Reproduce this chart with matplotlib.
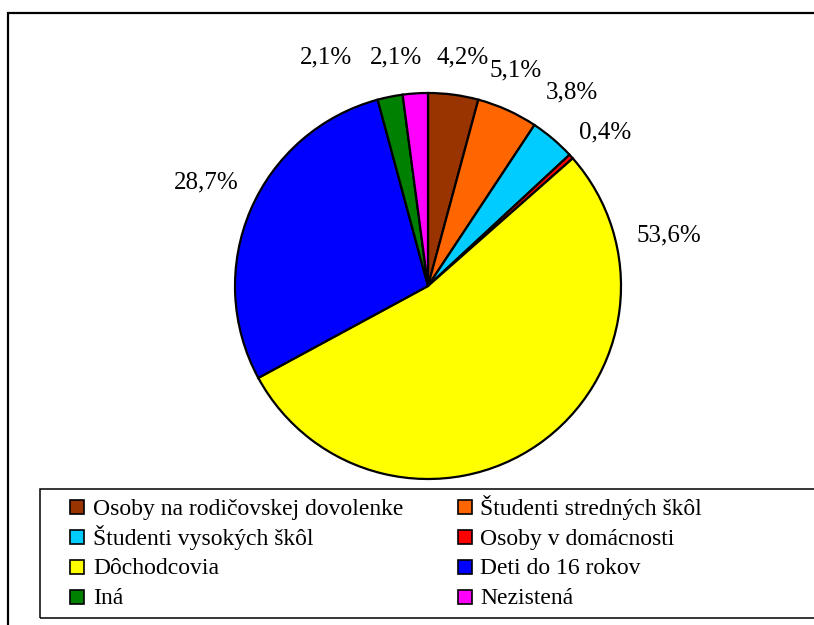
import matplotlib
matplotlib.use("Agg")
import matplotlib.pyplot as plt
from matplotlib.patches import Rectangle

# ---- data ----
categories = ["Osoby na rodičovskej dovolenke", "Študenti stredných škôl",
              "Študenti vysokých škôl", "Osoby v domácnosti",
              "Dôchodcovia", "Deti do 16 rokov", "Iná", "Nezistená"]
shares = [4.2, 5.1, 3.8, 0.4, 53.6, 28.7, 2.1, 2.1]
colors = ["#993300", "#FF6600", "#00CCFF", "#FF0000",
          "#FFFF00", "#0000FF", "#008000", "#FF00FF"]

# label placement (in pie-radius units, relative to pie centre)
label_pos = [(0.181, 1.197), (0.456, 1.130), (0.746, 1.016), (0.917, 0.808),
             (1.249, 0.275), (-1.150, 0.549), (-0.528, 1.197), (-0.166, 1.197)]

plt.rcParams['font.family'] = ['Liberation Serif', 'DejaVu Serif']

W, H = 814, 625
fig = plt.figure(figsize=(W / 100, H / 100), dpi=100)

def fx(px):
    return px / W

def fy(py):
    return 1 - py / H

# outer chart frame
fig.patches.append(Rectangle((fx(8), fy(660)), fx(900), (660 - 13) / H,
                             transform=fig.transFigure, fill=False,
                             edgecolor='black', linewidth=1.6))

# pie
cx, cy, r = 428, 286, 193
ax = fig.add_axes([fx(cx - r), fy(cy + r), 2 * r / W, 2 * r / H])
ax.pie(shares, colors=colors, startangle=90, counterclock=False,
       wedgeprops=dict(edgecolor='black', linewidth=1.6))
ax.set_xlim(-1, 1)
ax.set_ylim(-1, 1)
ax.set_aspect('equal', adjustable='box')

for v, (lx, ly) in zip(shares, label_pos):
    txt = f"{v:.1f}".replace('.', ',') + '%'
    ax.text(lx, ly - 8.5 / r, txt, ha='center', va='baseline', fontsize=18,
            clip_on=False)

# legend
fig.patches.append(Rectangle((fx(40), fy(618)), fx(900), (618 - 489) / H,
                             transform=fig.transFigure, fill=False,
                             edgecolor='black', linewidth=1.1))
marker_x = [70, 458]
text_x = [93, 480]
row_y = [507, 537, 567, 597]
msize = 14
for i, (cat, col) in enumerate(zip(categories, colors)):
    c, rw = i % 2, i // 2
    yc = row_y[rw]
    fig.patches.append(Rectangle((fx(marker_x[c]), fy(yc + msize / 2)),
                                 msize / W, msize / H, transform=fig.transFigure,
                                 facecolor=col, edgecolor='black', linewidth=1.2))
    fig.text(fx(text_x[c]), fy(yc + 7.5), cat, ha='left', va='baseline',
             fontsize=17)

fig.savefig("out.png", dpi=100)
